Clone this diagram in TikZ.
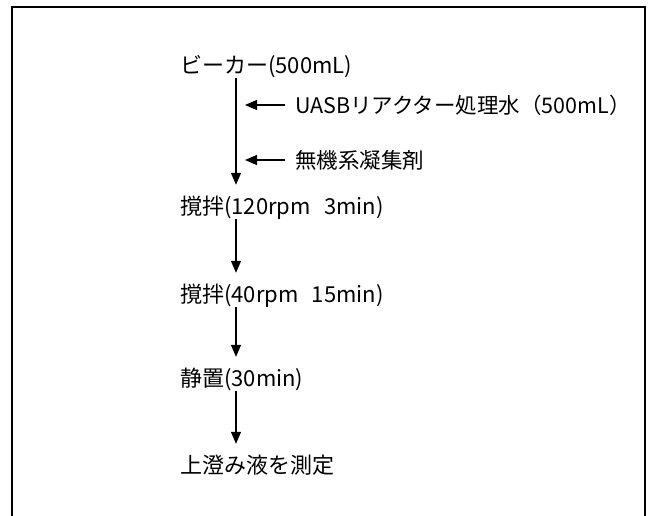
\documentclass[tikz,border=0pt]{standalone}
\usepackage{fontspec}
\setmainfont{Noto Sans CJK JP}
\usetikzlibrary{arrows.meta}
\tikzset{
  stepnode/.style={anchor=west, inner sep=0pt, text height=29pt, text depth=5pt, font=\fontsize{22}{26}\selectfont},
  sidelabel/.style={anchor=west, inner sep=0pt, font=\fontsize{21.5}{26}\selectfont},
  arr/.style={line width=1.3pt, -{Triangle[length=12pt,width=10pt]}},
  frame/.style={line width=2pt}
}
\begin{document}
\begin{tikzpicture}[x=1pt,y=-1pt]
\useasboundingbox (0,0) rectangle (651,515);
\draw[frame] (12,520) -- (12,7) -- (645,7) -- (645,520);
\coordinate (spine) at (236,0);
\node[stepnode] (n1) at (180,61) {ビーカー(500mL)};
\node[stepnode] (n2) at (180,202) {撹拌(120rpm\hspace{0.6em}3min)};
\node[stepnode] (n3) at (180,290) {撹拌(40rpm\hspace{0.6em}15min)};
\node[stepnode] (n4) at (180,374) {静置(30min)};
\node[stepnode] (n5) at (180,461) {上澄み液を測定};
\node[sidelabel] (l1) at (295,105) {UASBリアクター処理水（500mL）};
\node[sidelabel] (l2) at (295,160) {無機系凝集剤};
\draw[arr] (n1.south -| spine) -- (n2.north -| spine);
\draw[arr] (n2.south -| spine) -- (n3.north -| spine);
\draw[arr] (n3.south -| spine) -- (n4.north -| spine);
\draw[arr] (n4.south -| spine) -- (n5.north -| spine);
\draw[arr] ([xshift=-10pt]l1.west) -- ([xshift=9pt]l1.west -| spine);
\draw[arr] ([xshift=-10pt]l2.west) -- ([xshift=9pt]l2.west -| spine);
\end{tikzpicture}
\end{document}
